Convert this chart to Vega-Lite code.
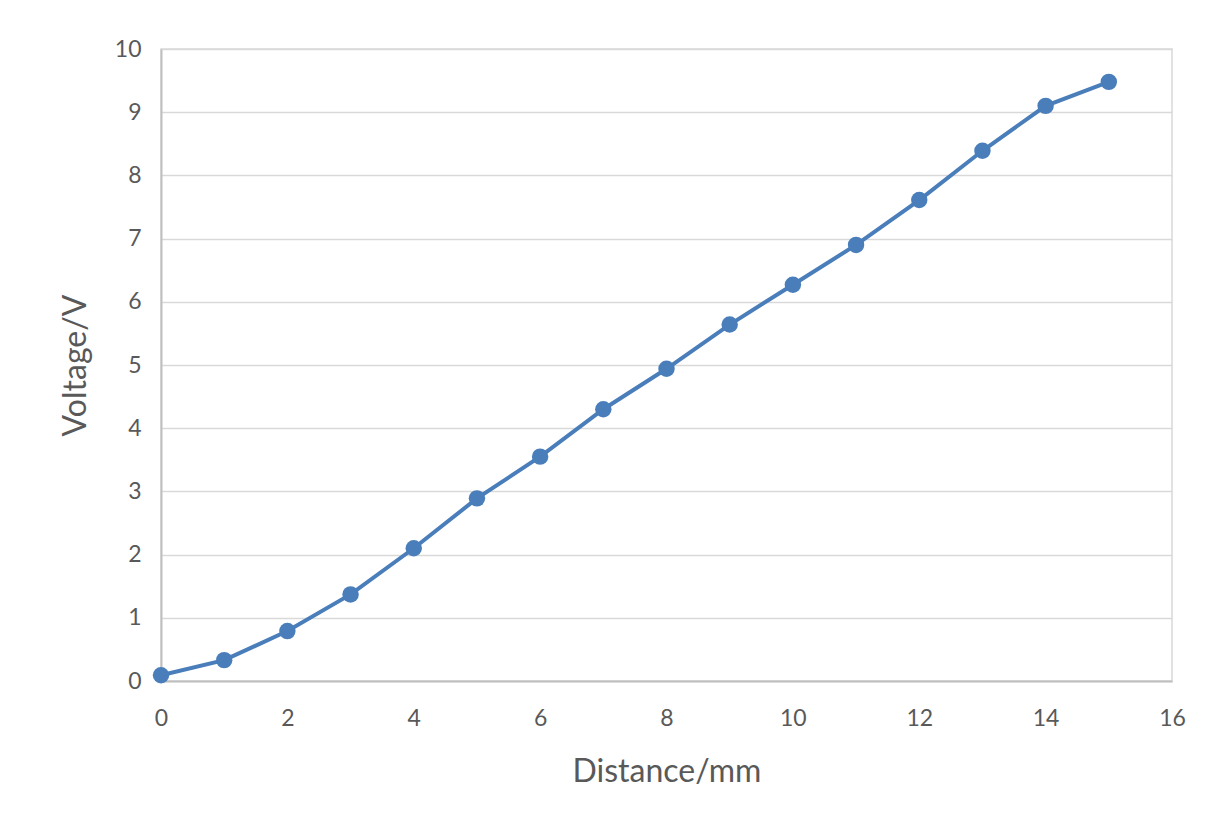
{
  "$schema": "https://vega.github.io/schema/vega-lite/v6.json",
  "width": 1011,
  "height": 632,
  "autosize": {"type": "none"},
  "padding": {"left": 161, "top": 49, "right": 34, "bottom": 155},
  "background": "white",
  "config": {
    "view": {"stroke": "#d9d9d9", "strokeWidth": 1.5},
    "font": "Lato"
  },
  "data": {
    "values": [
      {"d": 0, "v": 0.09},
      {"d": 1, "v": 0.33},
      {"d": 2, "v": 0.79},
      {"d": 3, "v": 1.37},
      {"d": 4, "v": 2.10},
      {"d": 5, "v": 2.89},
      {"d": 6, "v": 3.55},
      {"d": 7, "v": 4.30},
      {"d": 8, "v": 4.94},
      {"d": 9, "v": 5.64},
      {"d": 10, "v": 6.27},
      {"d": 11, "v": 6.90},
      {"d": 12, "v": 7.61},
      {"d": 13, "v": 8.39},
      {"d": 14, "v": 9.10},
      {"d": 15, "v": 9.48}
    ]
  },
  "encoding": {
    "x": {
      "field": "d", "type": "quantitative",
      "scale": {"domain": [0, 16], "nice": false},
      "axis": {
        "title": "Distance/mm", "values": [0, 2, 4, 6, 8, 10, 12, 14, 16],
        "grid": false, "ticks": false, "domainColor": "#bfbfbf", "domainWidth": 2,
        "labelFlush": false, "labelOverlap": false,
        "labelFontSize": 23, "labelColor": "#595959", "labelPadding": 26,
        "titleFontSize": 32, "titleFontWeight": "normal", "titleColor": "#595959", "titlePadding": 26
      }
    },
    "y": {
      "field": "v", "type": "quantitative",
      "scale": {"domain": [0, 10], "nice": false},
      "axis": {
        "title": "Voltage/V", "values": [0,1,2,3,4,5,6,7,8,9,10],
        "grid": true, "gridColor": "#d9d9d9", "gridWidth": 1.5, "ticks": false,
        "labelFlush": false, "labelOverlap": false,
        "domainColor": "#bfbfbf", "domainWidth": 2,
        "labelFontSize": 23, "labelColor": "#595959", "labelPadding": 20,
        "titleFontSize": 32, "titleFontWeight": "normal", "titleColor": "#595959", "titlePadding": 22
      }
    }
  },
  "layer": [
    {"mark": {"type": "line", "color": "#4a7ebb", "strokeWidth": 4}},
    {"mark": {"type": "point", "filled": true, "color": "#4a7ebb", "size": 270, "opacity": 1}}
  ]
}
